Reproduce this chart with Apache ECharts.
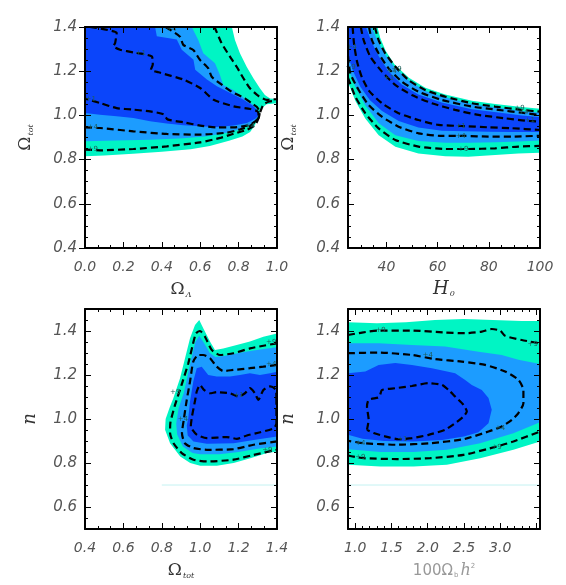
<!DOCTYPE html>
<html>
<head>
<meta charset="utf-8">
<title>likelihood contours</title>
<script src="https://cdn.jsdelivr.net/npm/echarts@6/dist/echarts.min.js"></script>
<style>
html, body { margin: 0; padding: 0; background: #fff; }
#main { width: 566px; height: 585px; }
</style>
</head>
<body>
<div id="main"></div>
<script>
// tick labels
const omLamLabels = [0.0, 0.2, 0.4, 0.6, 0.8, 1.0]
const omTotLabels = [0.4, 0.6, 0.8, 1.0, 1.2, 1.4]
const h0Labels = [40, 60, 80, 100]
const nLabels = [0.6, 0.8, 1.0, 1.2, 1.4]
const baryonLabels = [1.0, 1.5, 2.0, 2.5, 3.0]

// panel 1: Omega_Lambda vs Omega_tot
const p1Outer = [[0,1.4],[0.765,1.4],[0.781,1.341],[0.807,1.281],[0.842,1.22],[0.877,1.168],[0.911,1.123],[0.937,1.092],[0.964,1.077],[1.0,1.074],[1.0,1.055],[0.946,1.05],[0.92,1.032],[0.903,0.994],[0.885,0.955],[0.86,0.925],[0.82,0.905],[0.75,0.885],[0.65,0.862],[0.55,0.847],[0.4,0.835],[0.25,0.827],[0.1,0.818],[0,0.815]]
const p1Mid = [[0,1.4],[0.556,1.4],[0.59,1.341],[0.616,1.281],[0.677,1.236],[0.703,1.183],[0.72,1.138],[0.772,1.115],[0.833,1.077],[0.877,1.047],[0.894,1.024],[0.9,1.0],[0.888,0.975],[0.861,0.958],[0.809,0.937],[0.739,0.921],[0.635,0.906],[0.513,0.897],[0.339,0.89],[0.165,0.886],[0,0.883]]
const p1Inner = [[0,1.4],[0.365,1.4],[0.374,1.358],[0.478,1.343],[0.504,1.297],[0.565,1.252],[0.574,1.207],[0.635,1.162],[0.687,1.132],[0.757,1.101],[0.826,1.071],[0.878,1.041],[0.904,1.018],[0.9,0.995],[0.887,0.985],[0.843,0.966],[0.774,0.954],[0.687,0.948],[0.6,0.951],[0.513,0.955],[0.426,0.963],[0.339,0.973],[0.252,0.988],[0.165,0.996],[0.078,1.003],[0,1.011]]
const p1Line1 = [[0.026,1.4],[0.165,1.373],[0.157,1.328],[0.148,1.313],[0.183,1.297],[0.252,1.285],[0.348,1.267],[0.353,1.23],[0.343,1.207],[0.383,1.195],[0.513,1.162],[0.6,1.124],[0.67,1.071],[0.774,1.041],[0.861,1.029],[0.899,1.018],[0.904,1.0],[0.896,0.981],[0.87,0.963],[0.843,0.954],[0.774,0.946],[0.687,0.946],[0.6,0.954],[0.513,0.969],[0.43,0.982],[0.41,1.005],[0.339,1.018],[0.252,1.026],[0.165,1.033],[0.078,1.056],[0,1.076]]
const p1Line4 = [[0.42,1.4],[0.495,1.356],[0.512,1.319],[0.564,1.296],[0.599,1.251],[0.642,1.213],[0.66,1.175],[0.703,1.145],[0.764,1.107],[0.833,1.077],[0.868,1.055],[0.894,1.039],[0.91,1.015],[0.905,0.99],[0.887,0.973],[0.861,0.953],[0.809,0.937],[0.739,0.922],[0.6,0.913],[0.426,0.916],[0.252,0.928],[0.078,0.943],[0,0.946]]
const p1Line9a = [[0.67,1.4],[0.677,1.394],[0.712,1.326],[0.755,1.266],[0.79,1.22],[0.825,1.168],[0.859,1.123],[0.903,1.088],[0.946,1.07],[0.99,1.073],[1.0,1.074]]
const p1Line9b = [[0,0.845],[0.078,0.842],[0.252,0.848],[0.426,0.86],[0.6,0.878],[0.704,0.898],[0.774,0.917],[0.843,0.935],[0.887,0.958],[0.904,0.988],[0.915,1.02],[0.93,1.05],[0.96,1.063],[1.0,1.066]]
const p1Tags = [[0.45,1.39,'+4'],[0.29,1.282,'+1'],[0.03,1.075,'+1'],[0.04,0.946,'+4'],[0.04,0.845,'+9'],[0.86,0.95,'+4']]

// panel 2: H0 vs Omega_tot
const p2Outer = [[25,1.4],[36.5,1.4],[37.6,1.35],[39.8,1.29],[43.2,1.23],[48.8,1.17],[55.2,1.125],[63,1.095],[73.4,1.066],[82.5,1.052],[92.9,1.038],[100,1.03],[100,0.831],[91.5,0.828],[82.5,0.821],[72,0.813],[63,0.815],[52.5,0.828],[43.5,0.858],[37,0.91],[31.8,0.985],[27.9,1.065],[25,1.15]]
const p2Mid = [[25,1.4],[34.2,1.4],[36.5,1.34],[39.2,1.28],[43,1.22],[48.5,1.16],[55,1.112],[63,1.082],[73.4,1.052],[82.5,1.037],[92.9,1.02],[100,1.013],[100,0.886],[91.5,0.882],[82.5,0.878],[72,0.876],[63,0.876],[52.5,0.884],[43.5,0.91],[37,0.965],[31.8,1.045],[27.9,1.13],[25,1.215]]
const p2Inner = [[25,1.4],[32,1.4],[34.3,1.33],[36.9,1.27],[40.8,1.2],[46,1.14],[52.5,1.095],[61.6,1.058],[73.4,1.028],[83.7,1.013],[92.9,1.0],[100,0.993],[100,0.925],[89,0.925],[79.8,0.926],[70.8,0.928],[61.7,0.93],[52.5,0.945],[44.8,0.975],[38.3,1.02],[33.5,1.07],[29.8,1.13],[27,1.2],[25,1.27]]
const p2Line9a = [[35.5,1.4],[36.95,1.341],[39.55,1.281],[43.45,1.221],[48.65,1.16],[55.15,1.115],[62.95,1.085],[73.35,1.055],[82.45,1.04],[92.85,1.025],[100,1.017]]
const p2Line4a = [[33.2,1.4],[34.35,1.341],[36.95,1.281],[40.85,1.213],[46.05,1.153],[52.55,1.107],[61.65,1.07],[73.35,1.04],[83.75,1.025],[92.85,1.012],[100,1.002]]
const p2Line1a = [[30,1.4],[31.1,1.341],[33.7,1.266],[38.25,1.198],[43.45,1.138],[49.95,1.092],[57.75,1.055],[66.85,1.025],[75.95,1.002],[86.35,0.987],[94.15,0.976],[100,0.972]]
const p2Line1b = [[26.8,1.4],[27.4,1.32],[28.6,1.24],[30.5,1.17],[33.3,1.11],[38.25,1.055],[44.75,1.01],[52.55,0.979],[60.35,0.957],[69.45,0.952],[79.85,0.946],[88.95,0.942],[100,0.934]]
const p2Line4b = [[25,1.27],[25.9,1.19],[29.15,1.115],[33.05,1.047],[38.25,0.994],[44.75,0.949],[52.55,0.919],[61.65,0.907],[70.75,0.907],[79.85,0.904],[88.95,0.904],[100,0.908]]
const p2Line9b = [[25,1.17],[27.85,1.085],[31.75,1.01],[36.95,0.941],[43.45,0.889],[52.55,0.859],[62.95,0.848],[72.05,0.848],[82.45,0.851],[91.55,0.859],[100,0.862]]
const p2Tags = [[92,1.031,'+9'],[93.5,1.014,'+4'],[96,0.98,'+1'],[69,0.953,'+1'],[69,0.907,'+4'],[70,0.848,'+9'],[44,1.21,'+9'],[42,1.2,'+4'],[41,1.17,'+1'],[26.5,1.31,'+4'],[26,1.22,'+9']]

// panel 3: Omega_tot vs n
const p3Outer = [[0.995,1.45],[1.016,1.412],[1.051,1.352],[1.077,1.314],[1.12,1.321],[1.19,1.336],[1.259,1.352],[1.329,1.374],[1.4,1.389],[1.4,0.852],[1.348,0.845],[1.261,0.822],[1.174,0.8],[1.087,0.787],[1.0,0.787],[0.948,0.8],[0.896,0.83],[0.843,0.89],[0.817,0.951],[0.82,1.0],[0.84,1.05],[0.86,1.094],[0.895,1.185],[0.921,1.276],[0.947,1.367],[0.973,1.427]]
const p3Mid = [[0.995,1.378],[1.02,1.345],[1.05,1.3],[1.08,1.282],[1.13,1.287],[1.2,1.3],[1.27,1.31],[1.33,1.318],[1.4,1.326],[1.4,0.875],[1.3,0.865],[1.2,0.85],[1.1,0.84],[1.0,0.84],[0.96,0.845],[0.91,0.875],[0.88,0.93],[0.875,0.98],[0.888,1.05],[0.915,1.12],[0.935,1.2],[0.955,1.28],[0.975,1.35]]
const p3Inner = [[0.982,1.231],[1.008,1.238],[1.042,1.2],[1.086,1.193],[1.155,1.193],[1.207,1.2],[1.259,1.208],[1.311,1.2],[1.364,1.208],[1.4,1.215],[1.4,0.921],[1.278,0.905],[1.174,0.89],[1.035,0.887],[0.965,0.898],[0.935,0.925],[0.93,0.97],[0.938,1.004],[0.947,1.079],[0.964,1.17]]
const p3Line9 = [[1.4,1.344],[1.329,1.333],[1.259,1.321],[1.173,1.299],[1.103,1.291],[1.06,1.314],[1.025,1.374],[0.999,1.4],[0.978,1.389],[0.961,1.336],[0.938,1.253],[0.903,1.155],[0.869,1.064],[0.845,0.985],[0.843,0.936],[0.861,0.89],[0.904,0.845],[0.965,0.815],[1.035,0.807],[1.174,0.815],[1.278,0.837],[1.4,0.86]]
const p3Line4 = [[1.4,1.246],[1.329,1.238],[1.259,1.231],[1.173,1.223],[1.12,1.218],[1.086,1.238],[1.051,1.276],[1.016,1.291],[0.99,1.291],[0.964,1.261],[0.947,1.17],[0.93,1.087],[0.915,1.0],[0.905,0.935],[0.92,0.89],[0.965,0.868],[1.035,0.86],[1.174,0.863],[1.278,0.883],[1.4,0.898]]
const p3Line1 = [[1.397,1.087],[1.395,1.132],[1.364,1.148],[1.329,1.132],[1.303,1.087],[1.285,1.117],[1.259,1.14],[1.233,1.117],[1.199,1.102],[1.155,1.117],[1.086,1.122],[1.051,1.117],[1.02,1.132],[0.999,1.155],[0.982,1.125],[0.974,1.087],[0.957,1.011],[0.951,0.966],[0.983,0.928],[1.035,0.913],[1.139,0.918],[1.191,0.91],[1.243,0.925],[1.313,0.94],[1.383,0.958],[1.397,0.981],[1.397,1.087]]
const p3Floor = [[0.8,0.7],[1.4,0.7]]
const p3Tags = [[1.37,1.348,'+9'],[1.37,1.25,'+4'],[1.35,0.857,'+9'],[1.2,1.108,'+1'],[0.87,1.12,'+9'],[0.91,1.0,'+4']]

// panel 4: 100 Omega_b h^2 vs n
const p4Outer = [[0.9,1.44],[1.3,1.435],[1.7,1.44],[2.1,1.45],[2.5,1.455],[2.9,1.45],[3.3,1.445],[3.55,1.445],[3.55,0.898],[3.183,0.86],[2.724,0.822],[2.264,0.792],[1.805,0.784],[1.346,0.784],[0.9,0.792]]
const p4Mid = [[0.9,1.344],[1.323,1.344],[1.782,1.336],[2.241,1.329],[2.701,1.306],[3.022,1.291],[3.252,1.269],[3.55,1.25],[3.55,0.985],[3.183,0.935],[2.724,0.89],[2.264,0.86],[1.805,0.85],[1.346,0.85],[0.9,0.862]]
const p4Inner = [[0.9,1.208],[1.139,1.216],[1.323,1.246],[1.552,1.254],[1.782,1.246],[2.058,1.231],[2.379,1.208],[2.517,1.177],[2.609,1.155],[2.747,1.132],[2.839,1.095],[2.884,1.042],[2.839,0.981],[2.701,0.94],[2.5,0.92],[2.2,0.905],[1.8,0.898],[1.4,0.9],[1.1,0.91],[0.9,0.928]]
const p4Line1 = [[1.162,0.951],[1.185,0.997],[1.162,1.057],[1.185,1.087],[1.323,1.098],[1.346,1.113],[1.369,1.132],[1.552,1.14],[1.782,1.15],[2.012,1.163],[2.195,1.155],[2.287,1.132],[2.379,1.102],[2.494,1.064],[2.54,1.034],[2.494,1.011],[2.379,0.981],[2.241,0.951],[2.012,0.928],[1.782,0.913],[1.598,0.908],[1.414,0.921],[1.254,0.936],[1.162,0.951]]
const p4Line4 = [[0.9,1.299],[1.323,1.302],[1.782,1.291],[2.104,1.272],[2.471,1.261],[2.793,1.246],[3.068,1.216],[3.252,1.178],[3.321,1.132],[3.321,1.072],[3.252,1.027],[3.161,0.996],[3.022,0.966],[2.839,0.943],[2.494,0.908],[2.035,0.89],[1.575,0.883],[1.116,0.89],[0.9,0.901]]
const p4Line9a = [[0.9,1.382],[1.093,1.393],[1.323,1.402],[1.782,1.402],[2.241,1.393],[2.517,1.39],[2.747,1.397],[2.884,1.409],[3.0,1.402],[3.068,1.378],[3.298,1.359],[3.55,1.344]]
const p4Line9b = [[0.9,0.834],[1.116,0.822],[1.575,0.818],[2.035,0.822],[2.494,0.837],[2.953,0.875],[3.183,0.898],[3.55,0.943]]
const p4Floor = [[0.9,0.7],[3.55,0.7]]
const p4Tags = [[1.35,1.402,'+9'],[3.45,1.342,'+9'],[2.0,1.291,'+4'],[1.65,0.908,'+1'],[3.0,0.96,'+4'],[1.07,0.89,'+4'],[1.07,0.826,'+9'],[2.95,0.873,'+9']]

const cOuter = '#00f5c4'
const cMid = '#1c9cff'
const cInner = '#0b45fa'

function steps(a, b, d) {
    const out = []
    const n = Math.round((b - a) / d)
    for (let i = 0; i <= n; i++) out.push(+(a + i * d).toFixed(4))
    return out
}

const fmt1 = v => (+v).toFixed(1)
const fmt0 = v => String(Math.round(v))

const labelStyle = {
    fontFamily: 'DejaVu Sans',
    fontStyle: 'italic',
    color: '#555',
}

const nameRich = {
    o: { fontFamily: 'DejaVu Serif', fontSize: 17, color: '#333' },
    s: { fontFamily: 'DejaVu Serif', fontSize: 8, fontStyle: 'italic', color: '#333', padding: [10, 0, 0, 1] },
    i: { fontFamily: 'DejaVu Serif', fontSize: 18, fontStyle: 'italic', color: '#333' },
    g: { fontFamily: 'DejaVu Sans', fontSize: 15, color: '#999' },
    gs: { fontFamily: 'DejaVu Sans', fontSize: 7, color: '#999', padding: [9, 0, 0, 1] },
    gi: { fontFamily: 'DejaVu Serif', fontSize: 16, fontStyle: 'italic', color: '#999', padding: [0, 0, 0, 2] },
    gp: { fontFamily: 'DejaVu Sans', fontSize: 7, color: '#999', padding: [0, 0, 9, 0] },
}

// four axes per side: labelled line + minor ticks, major ticks, and the mirrored frame side
function axesFor(dim, grid, min, max, minor, major, labels, fmt, name, gap) {
    const base = { gridIndex: grid, type: 'value', min: min, max: max, z: 10, splitLine: { show: false } }
    const lo = dim === 'x' ? 'bottom' : 'left'
    const hi = dim === 'x' ? 'top' : 'right'
    const line = { show: true, onZero: false, lineStyle: { color: '#000', width: 2 } }
    const tick = (vals, len) => ({ show: true, inside: true, length: len, customValues: vals, lineStyle: { color: '#000', width: 1 } })
    return [
        Object.assign({}, base, {
            position: lo,
            name: name, nameLocation: 'middle', nameGap: gap,
            nameRotate: dim === 'x' ? 0 : 90,
            nameTextStyle: { rich: nameRich },
            axisLine: line,
            axisTick: tick(minor, 3),
            axisLabel: Object.assign({
                show: true, customValues: labels, formatter: fmt,
                margin: dim === 'x' ? 12 : 8, fontSize: dim === 'x' ? 14 : 15,
            }, labelStyle),
        }),
        Object.assign({}, base, { position: lo, axisLine: { show: false }, axisTick: tick(major, 6), axisLabel: { show: false } }),
        Object.assign({}, base, { position: hi, axisLine: line, axisTick: tick(minor, 3), axisLabel: { show: false } }),
        Object.assign({}, base, { position: hi, axisLine: { show: false }, axisTick: tick(major, 6), axisLabel: { show: false } }),
    ]
}

const xAxis = [].concat(
    axesFor('x', 0, 0, 1, steps(0, 1, 1 / 15), steps(0, 1, 0.2), omLamLabels, fmt1, '{o|Ω}{s|Λ}', 33),
    axesFor('x', 1, 25, 100, steps(25, 100, 5), steps(40, 100, 20), h0Labels, fmt0, '{i|H}{s|0}', 32),
    axesFor('x', 2, 0.4, 1.4, steps(0.4, 1.4, 1 / 15), steps(0.4, 1.4, 0.2), omTotLabels, fmt1, '{o|Ω}{s|tot}', 33),
    axesFor('x', 3, 0.9, 3.55, steps(0.9, 3.5, 0.1), steps(1.0, 3.5, 0.5), baryonLabels, fmt1, '{g|100Ω}{gs|b}{gi|h}{gp|2}', 34)
)
const yAxis = [].concat(
    axesFor('y', 0, 0.4, 1.4, steps(0.4, 1.4, 0.05), steps(0.4, 1.4, 0.2), omTotLabels, fmt1, '{o|Ω}{s|tot}', 50),
    axesFor('y', 1, 0.4, 1.4, steps(0.4, 1.4, 0.05), steps(0.4, 1.4, 0.2), omTotLabels, fmt1, '{o|Ω}{s|tot}', 50),
    axesFor('y', 2, 0.5, 1.5, steps(0.5, 1.5, 0.05), steps(0.6, 1.4, 0.2), nLabels, fmt1, '{i|n}', 46),
    axesFor('y', 3, 0.5, 1.5, steps(0.5, 1.5, 0.05), steps(0.6, 1.4, 0.2), nLabels, fmt1, '{i|n}', 51)
)

function fill(g, pts, color) {
    return {
        type: 'custom',
        xAxisIndex: g * 4,
        yAxisIndex: g * 4,
        data: pts,
        silent: true,
        clip: true,
        z: 1,
        renderItem: (params, api) => {
            if (params.dataIndex !== 0) return null
            return {
                type: 'polygon',
                shape: { points: pts.map(p => api.coord(p)) },
                style: { fill: color },
            }
        },
    }
}

function contour(g, pts) {
    return {
        type: 'line',
        xAxisIndex: g * 4,
        yAxisIndex: g * 4,
        data: pts,
        symbol: 'none',
        smooth: 0.2,
        silent: true,
        z: 3,
        lineStyle: { color: '#000', width: 2.2, type: [7, 4] },
    }
}

function floorLine(g, pts) {
    return {
        type: 'line', xAxisIndex: g * 4, yAxisIndex: g * 4, data: pts,
        symbol: 'none', silent: true, z: 2,
        lineStyle: { color: '#c4f2f2', width: 1 },
    }
}

// small level tags sitting on the contours
function tags(g, pts) {
    return {
        type: 'custom', xAxisIndex: g * 4, yAxisIndex: g * 4,
        data: pts.map(p => [p[0], p[1]]),
        silent: true, z: 5,
        renderItem: (params, api) => {
            const c = api.coord([api.value(0), api.value(1)])
            return {
                type: 'text',
                x: c[0], y: c[1],
                z2: 10,
                style: {
                    text: pts[params.dataIndex][2],
                    fontSize: 7, fontFamily: 'DejaVu Sans', fill: '#1f5f5a',
                    align: 'center', verticalAlign: 'middle',
                },
            }
        },
    }
}

const series = [
    fill(0, p1Outer, cOuter), fill(0, p1Mid, cMid), fill(0, p1Inner, cInner),
    contour(0, p1Line1), contour(0, p1Line4), contour(0, p1Line9a), contour(0, p1Line9b),
    tags(0, p1Tags),

    fill(1, p2Outer, cOuter), fill(1, p2Mid, cMid), fill(1, p2Inner, cInner),
    contour(1, p2Line9a), contour(1, p2Line4a), contour(1, p2Line1a),
    contour(1, p2Line1b), contour(1, p2Line4b), contour(1, p2Line9b),
    tags(1, p2Tags),

    floorLine(2, p3Floor),
    fill(2, p3Outer, cOuter), fill(2, p3Mid, cMid), fill(2, p3Inner, cInner),
    contour(2, p3Line9), contour(2, p3Line4), contour(2, p3Line1),
    tags(2, p3Tags),

    floorLine(3, p4Floor),
    fill(3, p4Outer, cOuter), fill(3, p4Mid, cMid), fill(3, p4Inner, cInner),
    contour(3, p4Line1), contour(3, p4Line4), contour(3, p4Line9a), contour(3, p4Line9b),
    tags(3, p4Tags),
]

const option = {
    animation: false,
    backgroundColor: '#fff',
    grid: [
        { left: 85, top: 27, width: 192, height: 221 },
        { left: 348, top: 27, width: 192, height: 221 },
        { left: 85, top: 309, width: 192, height: 220 },
        { left: 348, top: 309, width: 192, height: 220 },
    ],
    xAxis: xAxis,
    yAxis: yAxis,
    series: series,
}

const myChart = echarts.init(document.getElementById('main'))
myChart.setOption(option)
window.addEventListener('resize', myChart.resize)
</script>
</body>
</html>
